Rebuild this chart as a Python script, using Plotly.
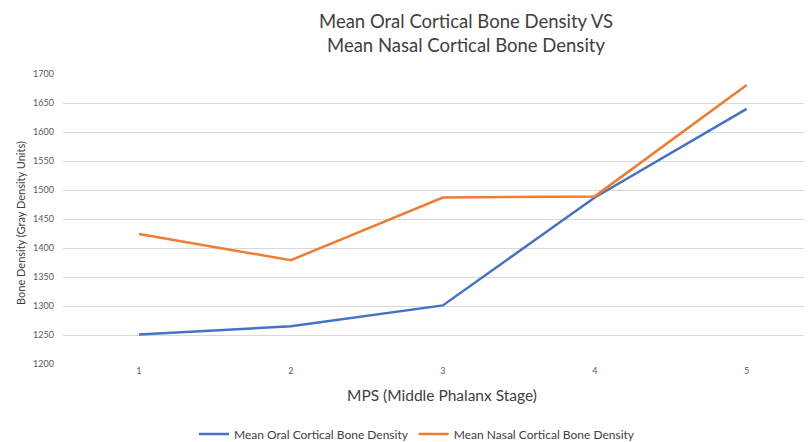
import plotly.graph_objects as go

stages = [1, 2, 3, 4, 5]
oral = [1251, 1265, 1301, 1487, 1640]
nasal = [1424, 1379, 1487, 1489, 1681]
y_ticks = [1200, 1250, 1300, 1350, 1400, 1450, 1500, 1550, 1600, 1650, 1700]

font_family = "Lato, Open Sans, sans-serif"

# The page body has an ~8px margin, so the figure is sized to fill the rest of the window.
W, H = 804, 434
L, R, T, B = 55, 0, 66, 78
pw = W - L - R
ph = H - T - B


def px(fx, fy):
    return (fx - L) / pw, (H - B - fy) / ph


fig = go.Figure()
fig.add_trace(go.Scatter(x=stages, y=oral, mode="lines", name="Mean Oral Cortical Bone Density",
                         line=dict(color="#4472C4", width=2.5)))
fig.add_trace(go.Scatter(x=stages, y=nasal, mode="lines", name="Mean Nasal Cortical Bone Density",
                         line=dict(color="#ED7D31", width=2.5)))

tx, ty = px(458, 25)
xx, xy = px(434, 387)
yx, yy = px(12, 215)
lx, _ = px(409, 426)
ly = 1 - 426 / H

fig.update_layout(
    width=W, height=H,
    margin=dict(l=L, r=R, t=T, b=B, autoexpand=False),
    paper_bgcolor="white", plot_bgcolor="white",
    font=dict(family=font_family, color="#595959"),
    showlegend=True,
    legend=dict(orientation="h", x=lx, xanchor="center", y=ly, yref="container",
                yanchor="middle", font=dict(size=12, color="#404040"), itemwidth=30),
    annotations=[
        dict(text="Mean Oral Cortical Bone Density VS<br>Mean Nasal Cortical Bone Density",
             x=tx, y=ty, xref="paper", yref="paper", xanchor="center", yanchor="middle",
             showarrow=False, font=dict(size=18.5, color="#404040", family=font_family)),
        dict(text="MPS (Middle Phalanx Stage)", x=xx, y=xy, xref="paper", yref="paper",
             xanchor="center", yanchor="middle", showarrow=False,
             font=dict(size=15.5, color="#404040", family=font_family)),
        dict(text="Bone Density (Gray Density Units)", x=yx, y=yy, xref="paper", yref="paper",
             xanchor="center", yanchor="middle", textangle=-90, showarrow=False,
             font=dict(size=11, color="#404040", family=font_family)),
    ],
)

fig.update_xaxes(range=[0.5, 5.43], tickvals=stages, ticktext=[str(s) for s in stages],
                 showgrid=False, zeroline=False, showline=False,
                 tickfont=dict(size=9, color="#595959"), ticks="")
fig.update_yaxes(range=[1200, 1700], tickvals=y_ticks, showgrid=True, gridcolor="#D9D9D9",
                 gridwidth=1, zeroline=False, showline=False,
                 tickfont=dict(size=9, color="#595959"), ticks="", ticklabelstandoff=8)

fig.write_html("out.html")
